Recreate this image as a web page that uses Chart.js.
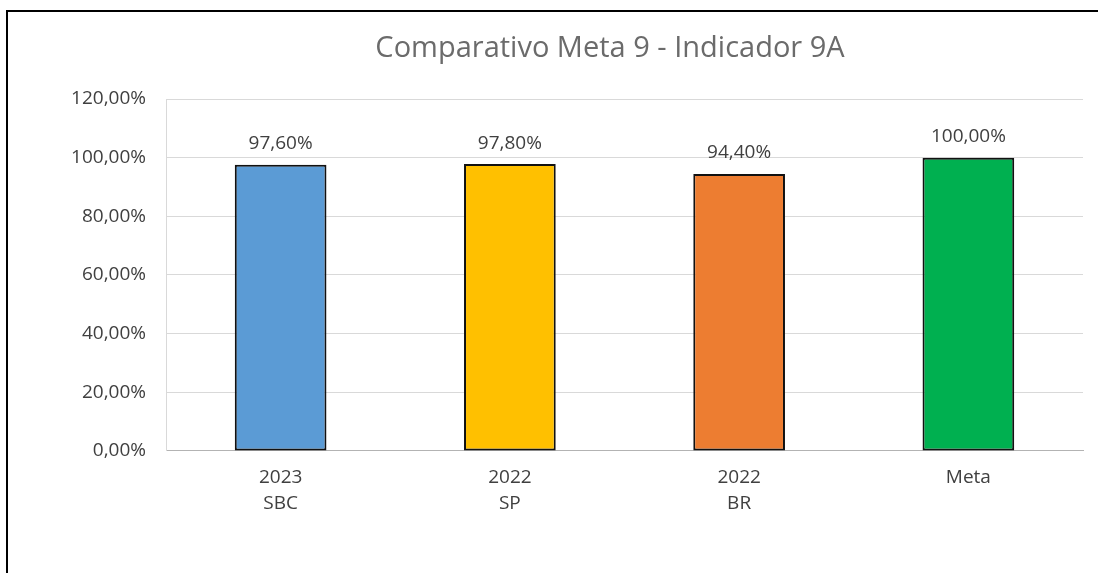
<!DOCTYPE html>
<html>
<head>
<meta charset="utf-8">
<script src="https://cdn.jsdelivr.net/npm/chart.js@4"></script>
<style>
  html, body { margin: 0; padding: 0; background: #fff; overflow: hidden; }
  #frame { position: absolute; left: 6px; top: 10px; width: 1200px; height: 700px; border: 2px solid #000; }
  #myChart { position: absolute; left: 0; top: 0; }
</style>
</head>
<body>
<div id="frame"></div>
<canvas id="myChart" width="1098" height="573"></canvas>
<script>
const titleText = 'Comparativo Meta 9 - Indicador 9A';
const categories = [['2023', 'SBC'], ['2022', 'SP'], ['2022', 'BR'], 'Meta'];
const values = [97.6, 97.8, 94.4, 100];
const barColors = ['#5B9BD5', '#FFC000', '#ED7D31', '#00B050'];
const yTicks = [0, 20, 40, 60, 80, 100, 120];

const fmt = v => v.toFixed(2).replace('.', ',') + '%';

// value labels above each bar + the title (offset like the original)
const barLabels = {
    id: 'barLabels',
    afterDraw(chart) {
        const c = chart.ctx;
        const meta = chart.getDatasetMeta(0);
        c.save();
        c.font = '19px "Open Sans"';
        c.fillStyle = '#404040';
        c.textAlign = 'center';
        c.textBaseline = 'middle';
        meta.data.forEach((bar, i) => {
            c.fillText(fmt(values[i]), bar.x, bar.y - 21);
        });
        c.font = '29px "Open Sans"';
        c.fillStyle = '#6b6b6b';
        c.fillText(titleText, 610, 49);
        c.restore();
    }
};

const ctx = document.getElementById('myChart').getContext('2d');
const myChart = new Chart(ctx, {
    type: 'bar',
    data: {
        labels: categories,
        datasets: [{
            data: values,
            backgroundColor: barColors,
            borderColor: '#111',
            borderWidth: 2,
            borderSkipped: false,
            categoryPercentage: 1,
            barPercentage: 0.4
        }]
    },
    options: {
        responsive: false,
        animation: false,
        layout: {
            padding: { left: 0, right: 15, top: 99, bottom: 50 }
        },
        plugins: {
            legend: { display: false },
            tooltip: { enabled: false },
            title: { display: false }
        },
        scales: {
            x: {
                grid: { display: false },
                border: { display: true, color: '#b3b3b3', width: 1 },
                ticks: {
                    color: '#404040',
                    padding: 6,
                    font: { family: 'Open Sans', size: 19, lineHeight: 1.37 }
                }
            },
            y: {
                min: 0,
                max: 120,
                afterBuildTicks: scale => { scale.ticks = yTicks.map(v => ({ value: v })); },
                afterFit: scale => { scale.width = 166; },
                grid: { color: '#d9d9d9', drawTicks: false },
                border: { display: true, color: '#d9d9d9' },
                ticks: {
                    color: '#404040',
                    padding: 20,
                    font: { family: 'Open Sans', size: 19 },
                    callback: v => fmt(v)
                }
            }
        }
    },
    plugins: [barLabels]
});
</script>
</body>
</html>
